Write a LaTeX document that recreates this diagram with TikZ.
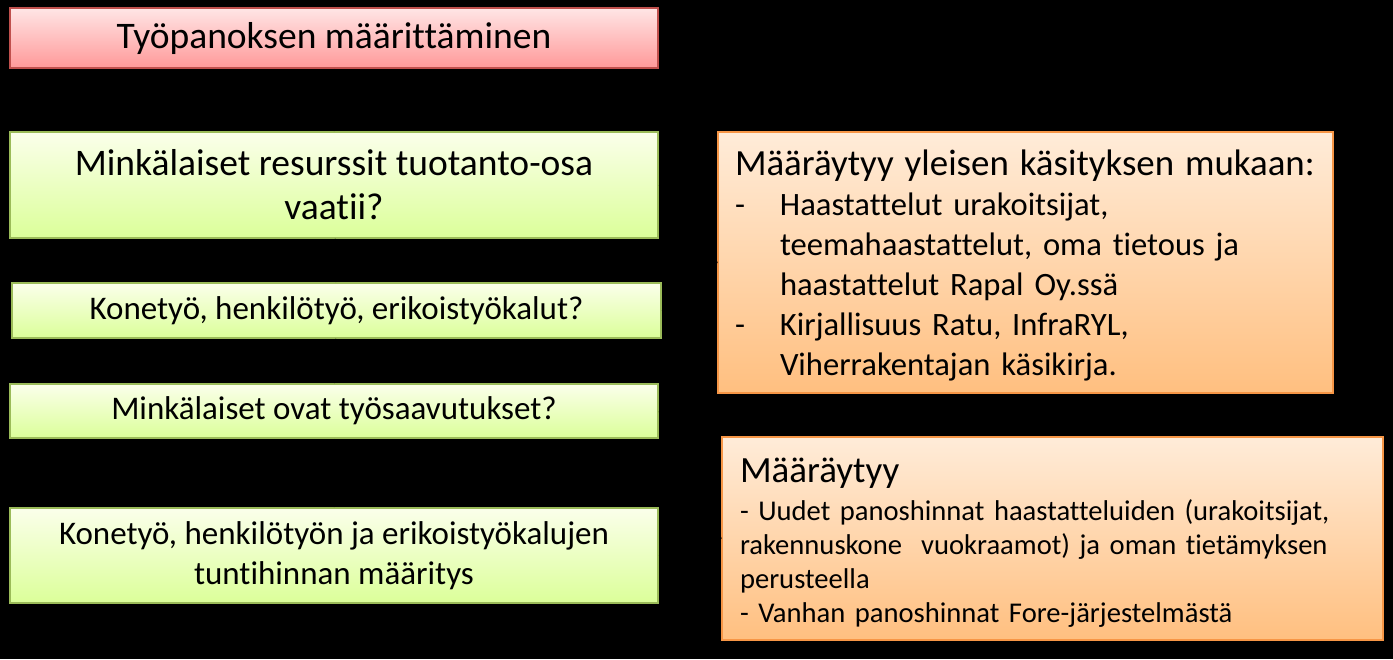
\documentclass[tikz,border=0pt]{standalone}
\usepackage{fontspec}
\setmainfont[Ligatures=CommonOff]{Carlito}
\usepackage{array}
\definecolor{redline}{HTML}{C0504D}
\definecolor{greenline}{HTML}{9BBB59}
\definecolor{orangeline}{HTML}{F79646}
\begin{document}
\begin{tikzpicture}[x=1pt,y=-1pt,
  redbox/.style={draw=redline,line width=1.5pt,top color=red!10,bottom color=red!40!white,minimum width=648pt,inner sep=0pt,align=center},
  greenbox/.style={draw=greenline,line width=1.5pt,top color=green!20!yellow!8,bottom color=green!35!yellow!40,minimum width=648pt,inner sep=0pt,align=center},
  orangebox/.style={draw=orangeline,line width=1.5pt,top color=orange!15,bottom color=orange!50!white,inner sep=0pt},
  link/.style={black,line width=1pt,-latex}]
\fill[black](0,0)rectangle(1393,659);
\useasboundingbox(0,0)rectangle(1393,659);
\node[redbox,minimum height=60pt,font=\fontsize{37.5}{44}\selectfont](tyo)at(334,38){Työpanoksen määrittäminen};
\node[greenbox,minimum height=106pt,font=\fontsize{37.5}{44}\selectfont](resurssit)at(334,185){Minkälaiset resurssit tuotanto-osa\\vaatii?};
\node[greenbox,minimum width=649pt,minimum height=55pt,font=\fontsize{33}{40}\selectfont](konetyo)at(336.5,310.5){Konetyö, henkilötyö, erikoistyökalut?};
\node[greenbox,minimum height=54pt,font=\fontsize{33}{40}\selectfont](saavutus)at(334,411){Minkälaiset ovat työsaavutukset?};
\node[greenbox,minimum height=95pt,font=\fontsize{33}{40}\selectfont](hinta)at(334,555.5){Konetyö, henkilötyön ja erikoistyökalujen\\tuntihinnan määritys};
\node[orangebox,minimum width=615pt,minimum height=261pt,text width=581pt,font=\fontsize{32.6}{40}\selectfont](yleinen)at(1025.5,262.5){%
\begin{tabular}{@{}p{45pt}@{}l@{}}
\multicolumn{2}{@{}l@{}}{\rule{0pt}{38pt}\fontsize{36.9}{40}\selectfont Määräytyy yleisen käsityksen mukaan:}\\
-&Haastattelut urakoitsijat,\\
&teemahaastattelut, oma tietous ja\\
&haastattelut Rapal Oy.ssä\\
-&Kirjallisuus Ratu, InfraRYL,\\
&Viherrakentajan käsikirja.
\end{tabular}};
\node[orangebox,minimum width=661pt,minimum height=203pt,text width=625pt,font=\fontsize{28.6}{34}\selectfont](uudet)at(1052.5,538.5){%
\begin{tabular}{@{}l@{}}
\rule{0pt}{38pt}{\fontsize{37}{38}\selectfont Määräytyy}\\[4pt]
- Uudet panoshinnat haastatteluiden (urakoitsijat,\\
rakennuskone\ \ vuokraamot) ja oman tietämyksen\\
perusteella\\
- Vanhan panoshinnat Fore-järjestelmästä
\end{tabular}};
\draw[link](tyo)--(resurssit);
\draw[link](resurssit)--(konetyo);
\draw[link](konetyo)--(saavutus);
\draw[link](saavutus)--(hinta);
\draw[link](yleinen.west)--(resurssit.east);
\draw[link](yleinen.west)--(konetyo.east);
\draw[link](uudet.west)--(saavutus.east);
\draw[link](uudet.west)--(hinta.east);
\end{tikzpicture}
\end{document}
